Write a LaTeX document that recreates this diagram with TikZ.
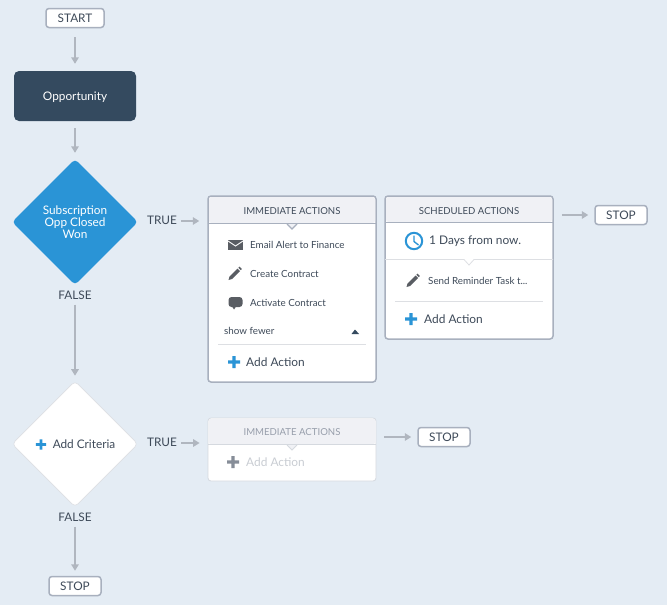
\documentclass[tikz,border=0pt]{standalone}
\usepackage{fontspec}
\setmainfont{Lato}
\usetikzlibrary{shapes.geometric,arrows.meta}

\definecolor{pagebg}{HTML}{E4ECF4}
\definecolor{darknode}{HTML}{344A5F}
\definecolor{bluenode}{HTML}{2A94D6}
\definecolor{edgegrey}{HTML}{A8B0BE}
\definecolor{arrowgrey}{HTML}{B0B6BF}
\definecolor{headfill}{HTML}{F0F1F5}
\definecolor{linegrey}{HTML}{DDDFE3}
\definecolor{inktext}{HTML}{3E4A59}
\definecolor{iconink}{HTML}{595D63}
\definecolor{fainttext}{HTML}{C9CDD3}
\definecolor{faintedge}{HTML}{D5D9DF}

\tikzset{
  plusicon/.pic={\fill[pic actions] (-1.6,-6) rectangle (1.6,6) (-6,-1.6) rectangle (6,1.6);},
  pencilicon/.pic={\fill[iconink] (-6.5,6.5) -- (-5.5,3) -- (2.5,-5) -- (5,-2.5) -- (-3,5.5) -- cycle
      (3.3,-5.8) -- (4.5,-6.8) -- (6.8,-4.5) -- (5.8,-3.3) -- cycle;},
}

\begin{document}
\begin{tikzpicture}[x=1pt,y=-1pt,font=\fontsize{11.8}{12}\selectfont,text=inktext]
\tikzstyle{endbox}=[rectangle,draw=edgegrey,fill=white,line width=1.5pt,rounded corners=3pt,minimum width=52pt,minimum height=19pt,inner sep=0pt]
\tikzstyle{diam}=[diamond,aspect=1,inner sep=0pt,minimum width=126pt,minimum height=126pt,rounded corners=4pt,align=center]
\tikzstyle{actbox}=[rectangle,draw=edgegrey,fill=white,line width=1.5pt,rounded corners=3pt,minimum width=168pt,inner sep=0pt]
\tikzstyle{flow}=[-{Triangle[width=7.5pt,length=6.5pt]},draw=arrowgrey,line width=1.6pt]
\tikzstyle{item}=[anchor=west,inner sep=0pt,font=\fontsize{9.8}{11}\selectfont]
\tikzstyle{addact}=[anchor=west,inner sep=0pt,font=\fontsize{11.9}{13}\selectfont]
\tikzstyle{headtxt}=[inner sep=0pt,font=\fontsize{9.6}{11}\selectfont]
\tikzstyle{rule}=[draw=linegrey,line width=0.8pt]

\fill[pagebg] (0,0) rectangle (667,605);
\useasboundingbox (0,0) rectangle (667,605);

% left column
\node[endbox,minimum width=58pt] (start) at (75,18) {START};
\node[rectangle,fill=darknode,text=white,rounded corners=5pt,minimum width=122pt,minimum height=50pt,text depth=0pt] (opp) at (75,96) {Opportunity};
\node[diam,fill=bluenode,text=white] (crit1) at (75,222) {Subscription\\Opp Closed\\Won};
\node[inner sep=0pt] (false1) at (75,295) {FALSE};
\node[diam,fill=white,draw=linegrey,line width=0.6pt] (crit2) at (75,444) {};
\node[inner sep=0pt] (addcrit) at (84,444) {Add Criteria};
\pic[fill=bluenode,scale=0.85] at (41,444.5) {plusicon};
\node[inner sep=0pt] (false2) at (75,517) {FALSE};
\node[endbox] (stop3) at (75,586) {STOP};

\node[inner sep=0pt] (true1) at (162,220) {TRUE};
\node[inner sep=0pt] (true2) at (162,442) {TRUE};

% first immediate box
\node[actbox,minimum height=186pt] (imm1) at (292,289) {};
\fill[headfill,rounded corners=2.5pt] (209,223) -- (209,197) -- (375,197) -- (375,223) -- cycle;
\draw[edgegrey,line width=1.2pt] (208,223.5) -- (376,223.5);
\draw[edgegrey,line width=1.2pt,fill=headfill] (287,224) -- (292,229) -- (297,224);
\node[headtxt] (immhead1) at (292,211) {IMMEDIATE ACTIONS};
\fill[iconink] (228,240) rectangle (243,250);
\draw[white,line width=0.9pt] (228,241) -- (235.5,246) -- (243,241);
\node[item] (email) at (250,245) {Email Alert to Finance};
\pic at (235,273.5) {pencilicon};
\node[item] (create) at (250,274) {Create Contract};
\fill[iconink,rounded corners=3pt] (228.5,297) rectangle (242.5,307);
\fill[iconink] (231,305) -- (234,309.5) -- (237,305) -- cycle;
\node[item] (activate) at (250,303) {Activate Contract};
\node[item] (fewer) at (224,331) {show fewer};
\fill[darknode] (351.5,334) -- (355,329.5) -- (359,334) -- cycle;
\draw[rule] (218,344.5) -- (366,344.5);
\pic[fill=bluenode] at (234,362) {plusicon};
\node[addact] (add1) at (246,362) {Add Action};

% scheduled box
\node[actbox,minimum height=143pt] (sched) at (469,267.5) {};
\fill[headfill,rounded corners=2.5pt] (386,222) -- (386,197) -- (552,197) -- (552,222) -- cycle;
\draw[edgegrey,line width=1.2pt] (385,222.5) -- (553,222.5);
\node[headtxt] (schedhead) at (469,211) {SCHEDULED ACTIONS};
\draw[bluenode,line width=2pt] (414,241) circle (8.2);
\draw[bluenode,line width=1.4pt] (414,235.5) -- (414,241.5) -- (418.5,245);
\node[addact] (delay) at (429,241) {1 Days from now.};
\draw[rule,fill=white] (385,259.5) -- (464,259.5) -- (469,265) -- (474,259.5) -- (553,259.5);
\pic at (413,280.5) {pencilicon};
\node[item] (remind) at (428,280.5) {Send Reminder Task t...};
\draw[rule] (395,301.5) -- (543,301.5);
\pic[fill=bluenode] at (411,319) {plusicon};
\node[addact] (add2) at (424,319.5) {Add Action};
\node[endbox] (stop1) at (621,215) {STOP};

% second immediate box
\node[actbox,draw=faintedge,line width=0.8pt,minimum height=63pt] (imm2) at (292,449.5) {};
\fill[headfill,rounded corners=2.5pt] (208.5,444) -- (208.5,418.5) -- (375.5,418.5) -- (375.5,444) -- cycle;
\draw[faintedge,line width=0.8pt] (208,444.5) -- (376,444.5);
\draw[faintedge,line width=0.8pt,fill=headfill] (287,445) -- (292,450) -- (297,445);
\node[headtxt,text=edgegrey!90!black] (immhead2) at (292,432) {IMMEDIATE ACTIONS};
\pic[fill=edgegrey!80!black] at (233,462) {plusicon};
\node[addact,text=fainttext] (add3) at (246,462.5) {Add Action};
\node[endbox] (stop2) at (444,437) {STOP};

% connectors
\draw[flow,shorten <=9pt,shorten >=7pt] (start) -- (opp);
\draw[flow,shorten <=7pt,shorten >=6pt] (opp) -- (crit1);
\draw[flow,shorten <=5pt,shorten >=5pt] (false1) -- (crit2);
\draw[flow,shorten <=5pt,shorten >=5pt] (false2) -- (stop3);
\draw[flow,shorten <=4pt,shorten >=8pt] (true1.east) ++(0,1) -- (imm1.west |- 0,221);
\draw[flow,shorten <=4pt,shorten >=8pt] (true2.east) ++(0,1) -- (imm2.west |- 0,443);
\draw[flow,shorten <=8pt,shorten >=6pt] (sched.east |- stop1) -- (stop1);
\draw[flow,shorten <=8pt,shorten >=6pt] (imm2.east |- stop2) -- (stop2);

\end{tikzpicture}
\end{document}
